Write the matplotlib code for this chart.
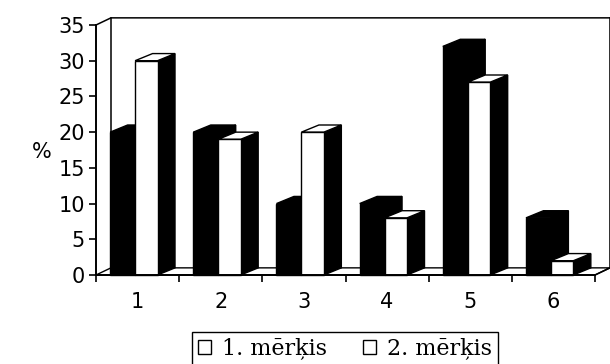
import matplotlib
matplotlib.use("Agg")
import matplotlib.pyplot as plt
from matplotlib.patches import Polygon

# percentages per question
categories = ["1", "2", "3", "4", "5", "6"]
goal1 = [20, 20, 10, 10, 32, 8]
goal2 = [30, 19, 20, 8, 27, 2]
series_names = ["1. mērķis", "2. mērķis"]
yticks = [0, 5, 10, 15, 20, 25, 30, 35]

fig = plt.figure(figsize=(6.1, 3.64), dpi=100)
ax = fig.add_axes([96 / 610, 89 / 364, 499 / 610, 250 / 364])
n = len(categories)
ymax = 35
ax.set_xlim(0, n)
ax.set_ylim(0, ymax)

# depth offsets (walls and bars)
wdx, wdy = 0.18, 1.0
bdx, bdy = 0.21, 1.0


def box(x0, w, h, front, side, top, z):
    pts_front = [(x0, 0), (x0 + w, 0), (x0 + w, h), (x0, h)]
    pts_side = [(x0 + w, 0), (x0 + w + bdx, bdy), (x0 + w + bdx, h + bdy), (x0 + w, h)]
    pts_top = [(x0, h), (x0 + w, h), (x0 + w + bdx, h + bdy), (x0 + bdx, h + bdy)]
    for pts, fc in ((pts_side, side), (pts_top, top), (pts_front, front)):
        ax.add_patch(Polygon(pts, closed=True, facecolor=fc, edgecolor="black",
                             linewidth=1.0, zorder=z, clip_on=False))


# floor and back wall edges
ax.add_patch(Polygon([(0, 0), (n, 0), (n + wdx, wdy), (wdx, wdy)], closed=True,
                     facecolor="white", edgecolor="black", linewidth=1.0,
                     zorder=1, clip_on=False))
wall = dict(color="black", linewidth=1.1, zorder=1, clip_on=False)
ax.plot([wdx, wdx], [wdy, ymax + wdy], **wall)
ax.plot([0, wdx, n + wdx], [ymax, ymax + wdy, ymax + wdy], **wall)
ax.plot([n + wdx, n + wdx, n], [ymax + wdy, wdy, 0], **wall)

for i in range(n):
    box(i + 0.17, 0.30, goal1[i], "black", "black", "black", 3 + 2 * i)
    box(i + 0.47, 0.27, goal2[i], "white", "black", "white", 4 + 2 * i)

for s in ("top", "right"):
    ax.spines[s].set_visible(False)
for s in ("left", "bottom"):
    ax.spines[s].set_linewidth(1.4)
    ax.spines[s].set_zorder(20)

ax.set_yticks(yticks)
ax.tick_params(axis="y", direction="out", length=5, width=1.2, pad=3,
               labelsize=15)
ax.set_xticks(range(n + 1))
ax.set_xticklabels([])
ax.set_xticks([i + 0.5 for i in range(n)], minor=True)
ax.set_xticklabels(categories, minor=True)
ax.tick_params(axis="x", which="major", direction="out", length=5, width=1.2)
ax.tick_params(axis="x", which="minor", length=0, pad=12, labelsize=15)

fig.text(42 / 610, 1 - 152 / 364, "%", fontsize=15, ha="center", va="center")

handles = [Polygon([(0, 0)], facecolor="white", edgecolor="black", linewidth=1.0)
           for _ in series_names]
fig.legend(handles, series_names, loc="upper left",
           bbox_to_anchor=(192 / 610, 1 - 332 / 364), ncol=2,
           prop={"family": "DejaVu Serif", "size": 16},
           frameon=True, fancybox=False, edgecolor="black", framealpha=1,
           handlelength=0.6, handleheight=0.6, handletextpad=0.5,
           columnspacing=1.6, borderpad=0.25, borderaxespad=0)

fig.savefig("out.png", dpi=100)
